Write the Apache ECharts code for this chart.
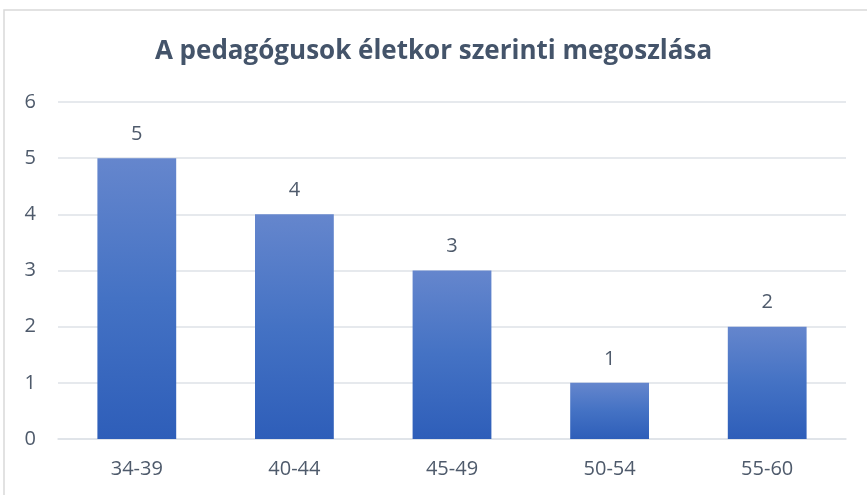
<!DOCTYPE html>
<html>
<head>
<meta charset="utf-8">
<script src="https://cdn.jsdelivr.net/npm/echarts@6/dist/echarts.min.js"></script>
<style>
  html, body { margin: 0; padding: 0; background: #fff; }
  #chart { width: 867px; height: 495px; }
</style>
</head>
<body>
<div id="chart"></div>
<script>
const categories = ['34-39', '40-44', '45-49', '50-54', '55-60'];
const counts = [5, 4, 3, 1, 2];
const yTicks = [0, 1, 2, 3, 4, 5, 6];

const chart = echarts.init(document.getElementById('chart'), null, { renderer: 'canvas' });

const labelColor = '#4E5A6B';
const gridColor = '#DEE2E7';

const option = {
  backgroundColor: '#fff',
  animation: false,
  title: {
    text: 'A pedagógusok életkor szerinti megoszlása',
    left: 'center',
    top: 34,
    // asymmetric padding nudges the centred title a little to the right
    padding: [5, 5, 5, 31],
    textStyle: {
      fontFamily: 'Open Sans',
      fontWeight: 'bold',
      fontSize: 26,
      color: '#44546A'
    }
  },
  grid: { left: 58, right: 21, top: 102, bottom: 56 },
  xAxis: {
    type: 'category',
    data: categories,
    axisLine: { show: true, lineStyle: { color: gridColor, width: 1.5 } },
    axisTick: { show: false },
    axisLabel: { margin: 20, fontFamily: 'Open Sans', fontSize: 20, color: labelColor }
  },
  yAxis: {
    type: 'value',
    min: yTicks[0],
    max: yTicks[yTicks.length - 1],
    interval: 1,
    axisLine: { show: false },
    axisTick: { show: false },
    splitLine: { lineStyle: { color: gridColor, width: 1.5 } },
    axisLabel: { margin: 22, fontFamily: 'Open Sans', fontSize: 20, color: labelColor }
  },
  series: [{
    type: 'bar',
    data: counts,
    barWidth: '50%',
    itemStyle: {
      color: new echarts.graphic.LinearGradient(0, 0, 0, 1, [
        { offset: 0, color: '#6586CD' },
        { offset: 0.5, color: '#4472C4' },
        { offset: 1, color: '#2E5EB9' }
      ])
    },
    label: {
      show: true,
      position: 'top',
      distance: 14,
      fontFamily: 'Open Sans',
      fontSize: 20,
      color: labelColor
    }
  }],
  graphic: [{
    type: 'polyline',
    shape: { points: [[4, 495], [4, 10], [867, 10]] },
    style: { stroke: '#D9D9D9', lineWidth: 1.5, fill: null },
    silent: true
  }]
};

chart.setOption(option);
</script>
</body>
</html>
